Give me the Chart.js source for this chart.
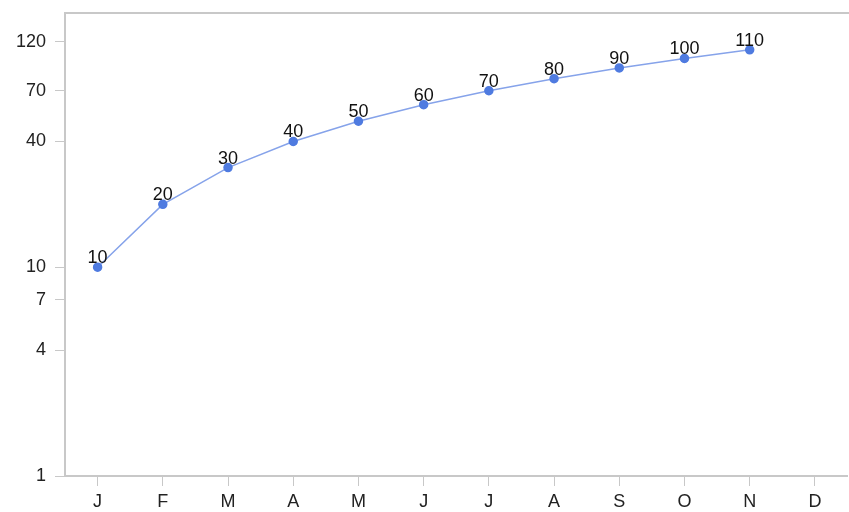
<!DOCTYPE html>
<html><head><meta charset="utf-8">
<script src="https://cdn.jsdelivr.net/npm/chart.js@4"></script>
<style>html,body{margin:0;padding:0;background:#fff;overflow:hidden;width:849px;height:512px}#wrap{width:853px;height:512px}</style>
</head><body><div id="wrap"><canvas id="c"></canvas></div>
<script>
const categories = ['J','F','M','A','M','J','J','A','S','O','N','D'];
const values = [10,20,30,40,50,60,70,80,90,100,110,null];
const yTicks = [1,4,7,10,40,70,120];
const yMin = 1, yMax = 165;

const axisColor = '#c8c8c8';
const font = {family: 'Liberation Sans, Arial, sans-serif', size: 18};

const extras = {
  id: 'extras',
  afterDatasetsDraw(chart) {
    const ctx = chart.ctx, a = chart.chartArea;
    ctx.save();
    ctx.strokeStyle = axisColor; ctx.lineWidth = 2;
    ctx.beginPath(); ctx.moveTo(a.left, a.top); ctx.lineTo(a.right + 6, a.top); ctx.stroke();
    ctx.fillStyle = '#111';
    ctx.font = '18px "Liberation Sans", Arial, sans-serif';
    ctx.textAlign = 'center'; ctx.textBaseline = 'alphabetic';
    const meta = chart.getDatasetMeta(0);
    meta.data.forEach((p, i) => {
      if (values[i] == null) return;
      ctx.fillText(String(values[i]), p.x, p.y - 4);
    });
    ctx.restore();
  }
};

new Chart(document.getElementById('c'), {
  type: 'line',
  data: {labels: categories, datasets: [{
    data: values, borderColor: '#86a3ea', borderWidth: 1.5,
    pointBackgroundColor: '#4f7be0', pointBorderColor: '#4f7be0',
    pointRadius: 4, tension: 0, spanGaps: false
  }]},
  options: {
    responsive: true, maintainAspectRatio: false, animation: false,
    layout: {padding: {top: 13, right: 0, left: 0, bottom: 0}},
    plugins: {legend: {display: false}, tooltip: {enabled: false}},
    scales: {
      x: {
        offset: true,
        grid: {display: true, drawOnChartArea: false, drawTicks: true, tickLength: 10, color: axisColor, offset: false},
        border: {color: axisColor, width: 2},
        ticks: {color: '#222', font: font, padding: 5, maxRotation: 0, autoSkip: false},
        afterFit(s) { s.height = 36; s.paddingLeft = 0; s.paddingRight = 0; }
      },
      y: {
        type: 'logarithmic', min: yMin, max: yMax,
        grid: {display: true, drawOnChartArea: false, drawTicks: true, tickLength: 10, color: axisColor},
        border: {color: axisColor, width: 2},
        ticks: {color: '#222', font: font, padding: 9, callback: v => String(v)},
        afterBuildTicks(s) { s.ticks = yTicks.map(v => ({value: v})); },
        afterFit(s) { s.width = 65; s.paddingTop = 0; s.paddingBottom = 0; }
      }
    }
  },
  plugins: [extras]
});
</script></body></html>
